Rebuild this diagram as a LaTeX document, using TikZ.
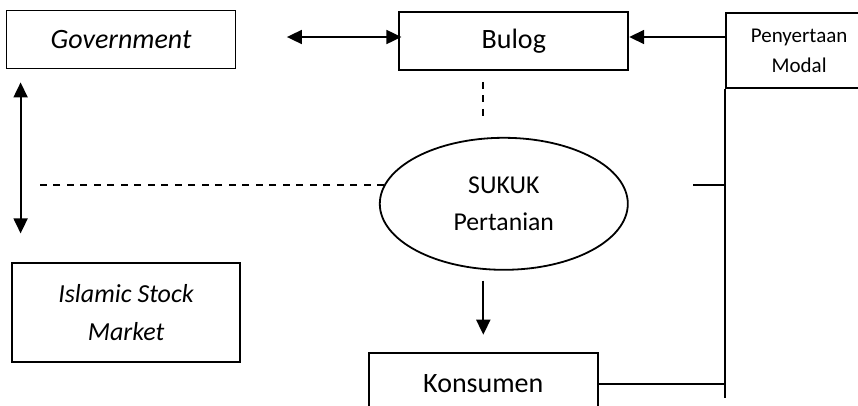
\documentclass[tikz,border=0pt]{standalone}
\usepackage{fontspec}
\setmainfont{Carlito}
\usetikzlibrary{shapes,positioning,arrows.meta}

\begin{document}
\begin{tikzpicture}[
        x=1pt, y=1pt,
        line width=1.8pt,
        box/.style={rectangle, draw, minimum width=229pt, minimum height=58pt, align=center},
        bigtext/.style={font=\fontsize{28}{34}\selectfont},
        midtext/.style={font=\fontsize{25.7}{37}\selectfont},
        smalltext/.style={font=\fontsize{21}{30}\selectfont},
        oval/.style={ellipse, draw, minimum width=248pt, minimum height=132pt, align=center, midtext},
        arrow/.style={-{Triangle[length=15pt,width=14pt]}},
        dblarrow/.style={{Triangle[length=15pt,width=14pt]}-{Triangle[length=15pt,width=14pt]}},
        dashline/.style={dash pattern=on 7pt off 6.5pt}
    ]
        \useasboundingbox (0,0) rectangle (858,-405);

        \node[box, bigtext] (gov) at (121,-39.5) {\itshape Government};
        \node[box, bigtext, right=162pt of gov, yshift=-1.5pt] (bulog) {Bulog};
        \node[box, smalltext, right=96pt of bulog, yshift=-9.5pt, minimum width=146pt, minimum height=75pt] (modal) {Penyertaan\\Modal};
        \node[oval, below=66pt of bulog, xshift=-10pt] (sukuk) {SUKUK\\Pertanian};
        \node[box, bigtext, below=81pt of sukuk, xshift=-20.5pt, minimum height=62pt] (kons) {Konsumen};
        \node[box, midtext, below=193pt of gov, xshift=5pt, minimum width=228pt, minimum height=99pt, font=\fontsize{26}{38}\selectfont\itshape] (market) {Islamic Stock\\Market};

        \draw[dblarrow, shorten <=-3pt, shorten >=50.5pt] ([yshift=4pt]bulog.west) -- ([yshift=4pt]bulog.west -| gov.east);
        \draw[arrow] ([yshift=4pt]bulog.east -| modal.west) -- ([yshift=4pt]bulog.east);
        \draw[dblarrow, shorten <=13pt, shorten >=29pt] ([xshift=15pt]gov.south west) -- ([xshift=15pt]gov.south west |- market.north);
        \draw[dashline, shorten <=11pt, shorten >=20pt] (kons.north |- bulog.south) -- (kons.north |- sukuk.north);
        \draw[dashline, shorten >=28pt] (sukuk.171) -- (sukuk.171 -| market.west);
        \draw[arrow, shorten <=10pt, shorten >=17pt] (kons.north |- sukuk.south) -- (kons.north);

        % bus line on the right
        \draw (modal.south west) -- ([yshift=-14pt]kons.east -| modal.west);
        \draw (sukuk.171 -| modal.west) -- ++(-32pt,0);
        \draw (kons.east) -- (kons.east -| modal.west);
\end{tikzpicture}
\end{document}
